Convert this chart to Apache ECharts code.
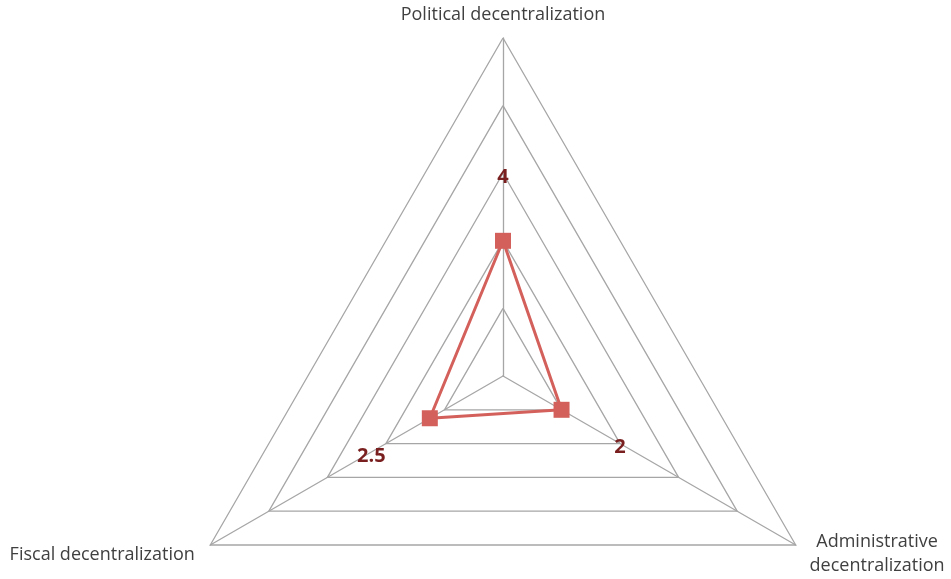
<!DOCTYPE html>
<html>
<head>
<meta charset="utf-8">
<script src="https://cdn.jsdelivr.net/npm/echarts@6/dist/echarts.min.js"></script>
<style>html,body{margin:0;padding:0;background:#fff}#c{width:951px;height:579px}</style>
</head>
<body>
<div id="c"></div>
<script>
// order: top, lower-left, lower-right (ECharts lays indicators counter-clockwise)
var indicators = ['Political decentralization', 'Fiscal decentralization', 'Administrative\ndecentralization'];
var values = [4, 2.5, 2];
var axisMax = 10;
var labelGap = 2; // outward label shift, in value units

var chart = echarts.init(document.getElementById('c'));
chart.setOption({
  animation: false,
  radar: {
    center: [503, 376],
    radius: 338,
    startAngle: 90,
    shape: 'polygon',
    splitNumber: 5,
    indicator: indicators.map(function (n) { return { name: n, max: axisMax, min: 0 }; }),
    axisName: {
      color: '#404040',
      fontFamily: 'Open Sans',
      fontSize: 18,
      verticalAlign: 'middle',
      lineHeight: 24,
      formatter: function (n) {
        if (n.indexOf('Political') === 0) return '{t|' + n + '}';
        if (n.indexOf('Fiscal') === 0) return '{f|' + n + '}';
        return n.split('\n').map(function (s) { return '{a|' + s + '}'; }).join('\n');
      },
      rich: {
        t: { fontFamily: 'Open Sans', fontSize: 18, color: '#404040', padding: [0, 0, 22, 0] },
        f: { fontFamily: 'Open Sans', fontSize: 18, color: '#404040', padding: [8, 5, 0, 0] },
        a: { fontFamily: 'Open Sans', fontSize: 18, color: '#404040', width: 142, align: 'center', lineHeight: 24, padding: [6, 0, 0, 0] }
      }
    },
    nameGap: 12,
    axisLine: { lineStyle: { color: '#a6a6a6', width: 1.3 } },
    splitLine: { lineStyle: { color: '#a6a6a6', width: 1.3 } },
    splitArea: { show: false },
    axisTick: { show: false },
    axisLabel: { show: false }
  },
  series: [
    {
      type: 'radar',
      symbol: 'rect',
      symbolSize: 16,
      lineStyle: { color: '#d4605b', width: 3 },
      itemStyle: { color: '#d4605b' },
      data: [{ value: values }]
    },
    {
      type: 'radar',
      symbol: 'circle',
      symbolSize: 1,
      silent: true,
      lineStyle: { width: 0, opacity: 0 },
      itemStyle: { color: 'rgba(0,0,0,0)' },
      label: {
        show: true,
        position: 'inside',
        offset: [0, 4],
        color: '#7a1f1f',
        fontWeight: 'bold',
        fontFamily: 'Open Sans',
        fontSize: 20,
        formatter: function (p) { return String(values[p.dimensionIndex != null ? p.dimensionIndex : 0]); }
      },
      data: [{ value: values.map(function (v) { return v + labelGap; }) }]
    }
  ]
});
</script>
</body>
</html>
